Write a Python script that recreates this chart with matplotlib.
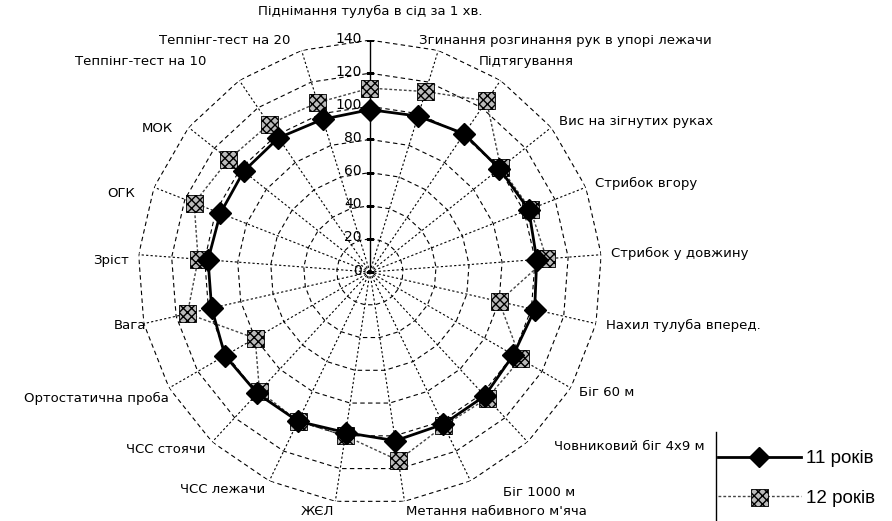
import numpy as np
import matplotlib
matplotlib.use("Agg")
import matplotlib.pyplot as plt
from matplotlib.lines import Line2D

plt.rcParams['font.family'] = ['DejaVu Sans']

categories = [
    "Піднімання тулуба в сід за 1 хв.",
    "Згинання розгинання рук в упорі лежачи",
    "Підтягування",
    "Вис на зігнутих руках",
    "Стрибок вгору",
    "Стрибок у довжину",
    "Нахил тулуба вперед.",
    "Біг 60 м",
    "Човниковий біг 4х9 м",
    "Біг 1000 м",
    "Метання набивного м'яча",
    "ЖЄЛ",
    "ЧСС лежачи",
    "ЧСС стоячи",
    "Ортостатична проба",
    "Вага",
    "Зріст",
    "ОГК",
    "МОК",
    "Теппінг-тест на 10",
    "Теппінг-тест на 20",
]
age_11 = [98, 98.5, 101, 100, 103, 101, 102, 100, 102, 102, 103,
          98, 100, 100, 101, 98, 98, 97, 97.5, 98, 96.5]
age_12 = [111, 114, 125, 101, 104, 107, 80, 105, 104, 103, 115,
          100, 100, 98, 80, 113, 104, 114, 109, 108, 107]
r_ticks = [0, 20, 40, 60, 80, 100, 120, 140]
series_names = ["11 років", "12 років"]

# nudges (points) for category labels, like Excel puts them
label_nudge = {1: (-16, 0), 2: (-20, 8), 8: (14, 2), 9: (20, -2),
               14: (6, -4), 15: (9, 0), 16: (0, -5), 17: (-7, -7),
               18: (-6, -5), 19: (-20, 8), 20: (-6, 0)}

n = len(categories)
theta = np.arange(n) * 2 * np.pi / n
theta_c = np.append(theta, theta[0])

fig = plt.figure(figsize=(8.92, 5.21), dpi=100)
ax = fig.add_axes([0.1547, 0.0326, 0.520, 0.8906], projection='polar')
ax.set_theta_zero_location('N')
ax.set_theta_direction(-1)
ax.set_ylim(0, 140)
ax.grid(False)
ax.spines['polar'].set_visible(False)
ax.set_xticks([])
ax.set_yticks([])
ax.patch.set_alpha(0)

# polygon grid
for r in r_ticks[1:]:
    ax.plot(theta_c, [r] * (n + 1), color='black', lw=0.8,
            ls=(0, (4, 3)), zorder=1)
for t in theta[1:]:
    ax.plot([t, t], [0, 140], color='black', lw=0.8, ls=(0, (2, 2)), zorder=1)
# value axis
ax.plot([0, 0], [0, 140], color='black', lw=1.0, zorder=2)
for r in r_ticks:
    ax.plot([0], [r], marker='_', ms=6, color='black', mew=1, zorder=2)
    ax.annotate(str(r), xy=(0, r), xytext=(-6, 1), textcoords='offset points',
                ha='right', va='center', fontsize=10)

# data
ax.plot(theta_c, age_12 + age_12[:1], color='#444444', lw=1.0,
        ls=(0, (2, 1.5)), zorder=3)
ax.scatter(theta, age_12, marker='s', s=150, facecolor='#bbbbbb',
           edgecolor='black', hatch='xxxx', linewidth=0.6, zorder=4)
ax.plot(theta_c, age_11 + age_11[:1], color='black', lw=2.0, zorder=5)
ax.plot(theta, age_11, ls='none', marker='D', ms=11, color='black', zorder=6)

# category labels
for i, (t, lab) in enumerate(zip(theta, categories)):
    deg = np.degrees(t)
    if i == 0:
        ax.text(t, 157, lab, ha='center', va='center', fontsize=9.5)
        continue
    ha = 'left' if deg < 180 else 'right'
    dx, dy = label_nudge.get(i, (0, 0))
    ax.annotate(lab, xy=(t, 146), xytext=(dx, dy), textcoords='offset points',
                ha=ha, va='center', fontsize=9.5, annotation_clip=False)

# legend
h11 = Line2D([], [], color='black', lw=2, marker='D', ms=10)
h12_line = Line2D([], [], color='#444444', lw=1, ls=(0, (2, 1.5)))
h12_mark = ax.scatter([], [], marker='s', s=150, facecolor='#bbbbbb',
                      edgecolor='black', hatch='xxxx', linewidth=0.6)
fig.legend([h11, (h12_line, h12_mark)], series_names, loc='upper left',
           bbox_to_anchor=(718 / 892, 1 - 450 / 521), frameon=False,
           prop={'family': 'Liberation Sans', 'size': 13.5},
           handlelength=4.4, handletextpad=0.3,
           labelspacing=1.2, borderaxespad=0, borderpad=0)
fig.add_artist(Line2D([716 / 892, 716 / 892], [0, 1 - 432 / 521],
                      color='black', lw=1, transform=fig.transFigure))

fig.savefig("out.png", dpi=100)
